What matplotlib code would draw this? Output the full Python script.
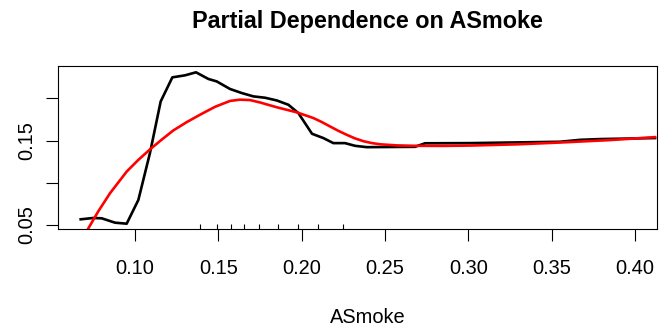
import matplotlib
matplotlib.use("Agg")
import matplotlib.pyplot as plt
import numpy as np

plt.rcParams['font.family'] = ['Liberation Sans', 'DejaVu Sans']

# partial dependence of the fitted model on ASmoke
pd_x = [0.0674, 0.0750, 0.0800, 0.0880, 0.0950, 0.1020, 0.1090, 0.1154,
        0.1224, 0.1300, 0.1366, 0.1440, 0.1490, 0.1570, 0.1640, 0.1710,
        0.1780, 0.1850, 0.1920, 0.1980, 0.2062, 0.2130, 0.2190, 0.2260,
        0.2320, 0.2390, 0.2680, 0.2740, 0.3010, 0.3550, 0.3670, 0.3790,
        0.4120]
pd_y = [0.0564, 0.0580, 0.0576, 0.0524, 0.0512, 0.0794, 0.1354, 0.1964,
        0.2250, 0.2274, 0.2310, 0.2231, 0.2202, 0.2112, 0.2064, 0.2024,
        0.2008, 0.1976, 0.1925, 0.1826, 0.1580, 0.1529, 0.1469, 0.1469,
        0.1437, 0.1421, 0.1425, 0.1467, 0.1469, 0.1485, 0.1508, 0.1517,
        0.1529]

# smoothed fit through the partial dependence
sm_x = [0.0674, 0.0720, 0.0780, 0.0850, 0.0950, 0.1020, 0.1090, 0.1160,
        0.1230, 0.1310, 0.1390, 0.1480, 0.1570, 0.1630, 0.1690, 0.1750,
        0.1850, 0.1970, 0.2070, 0.2120, 0.2170, 0.2220, 0.2270, 0.2320,
        0.2370, 0.2420, 0.2470, 0.2570, 0.2670, 0.2850, 0.3010, 0.3300,
        0.3550, 0.3850, 0.4120]
sm_y = [0.0280, 0.0457, 0.0660, 0.0874, 0.1131, 0.1270, 0.1395, 0.1510,
        0.1620, 0.1718, 0.1806, 0.1900, 0.1970, 0.1985, 0.1980, 0.1952,
        0.1895, 0.1835, 0.1767, 0.1720, 0.1667, 0.1615, 0.1568, 0.1525,
        0.1492, 0.1470, 0.1455, 0.1442, 0.1437, 0.1436, 0.1440, 0.1455,
        0.1476, 0.1505, 0.1540]

# deciles of ASmoke (rug)
deciles = [0.139, 0.149, 0.1574, 0.1656, 0.1744, 0.186, 0.1976, 0.2096, 0.2246]

xticks = [0.10, 0.15, 0.20, 0.25, 0.30, 0.35, 0.40]
yticks = [0.05, 0.10, 0.15, 0.20]
ylabels = ['0.05', '', '0.15', '']

fig = plt.figure(figsize=(6.7, 3.27), dpi=100)
ax = fig.add_axes([0.0866, 0.2997, 0.894, 0.4985])

ax.plot(pd_x, pd_y, color='black', lw=1.9, solid_joinstyle='round')
ax.plot(sm_x, sm_y, color='red', lw=1.9, solid_joinstyle='round')

ax.vlines(deciles, 0, 0.03, color='black', lw=0.8,
          transform=ax.get_xaxis_transform())

ax.set_xlim(0.0538, 0.4132)
ax.set_ylim(0.0449, 0.2385)

ax.set_xticks(xticks)
ax.set_xticklabels(['%.2f' % t for t in xticks])
ax.set_yticks(yticks)
ax.set_yticklabels(ylabels, rotation=90, va='center')

ax.tick_params(axis='both', direction='out', length=8.5, width=0.8,
               labelsize=14.4, colors='black')
ax.tick_params(axis='x', pad=13)
ax.tick_params(axis='y', pad=7)
for s in ax.spines.values():
    s.set_linewidth(0.8)

ax.set_title('Partial Dependence on ASmoke', fontsize=16.8, fontweight='bold',
             pad=27, x=0.517)
ax.set_xlabel('ASmoke', fontsize=14.4, labelpad=22, x=0.517)

fig.savefig('out.png', dpi=100)
